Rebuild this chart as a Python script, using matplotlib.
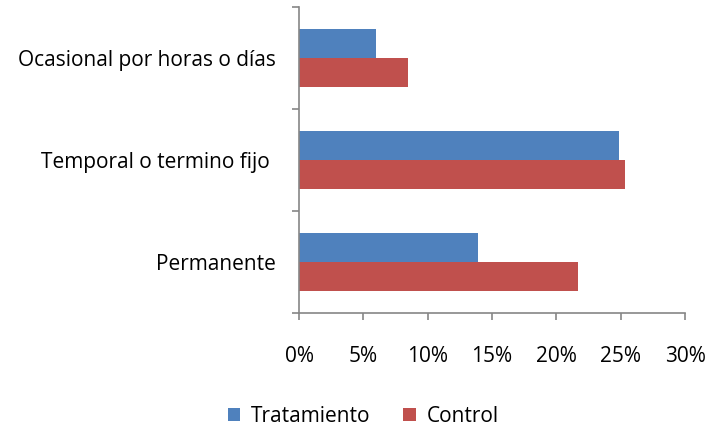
import numpy as np
import matplotlib.pyplot as plt
from matplotlib.ticker import FuncFormatter

plt.rcParams['font.family'] = ['Open Sans', 'DejaVu Sans']

categorias = ['Permanente', 'Temporal o termino fijo ', 'Ocasional por horas o días']
tratamiento = [13.9, 24.9, 6.0]
control = [21.7, 25.3, 8.5]
xticks = [0, 5, 10, 15, 20, 25, 30]

azul = '#4F81BD'
rojo = '#C0504D'
gris = '#868686'

fig = plt.figure(figsize=(7.1, 4.29), dpi=100)
ax = fig.add_axes([299/710, 1 - 313/429, 386/710, 306/429])

y = np.arange(len(categorias))
h = 0.28
ax.barh(y + h/2, tratamiento, height=h, color=azul, label='Tratamiento')
ax.barh(y - h/2, control, height=h, color=rojo, label='Control')

ax.set_xlim(0, 30)
ax.set_ylim(-0.5, 2.5)
ax.set_xticks(xticks)
ax.xaxis.set_major_formatter(FuncFormatter(lambda v, p: '%d%%' % v))
ax.set_yticks([-0.5, 0.5, 1.5, 2.5])
ax.set_yticklabels([])
ax.set_yticks(y, minor=True)
ax.set_yticklabels(categorias, minor=True)
ax.tick_params(axis='y', which='minor', length=0, pad=17, labelsize=15)
ax.tick_params(axis='y', which='major', length=5, color=gris, width=1.2)
ax.tick_params(axis='x', length=5, color=gris, width=1.2, pad=19, labelsize=15)

for s in ['top', 'right']:
    ax.spines[s].set_visible(False)
for s in ['left', 'bottom']:
    ax.spines[s].set_color(gris)
    ax.spines[s].set_linewidth(1.2)

handles, labels = ax.get_legend_handles_labels()
fig.legend(handles, labels, loc='center', bbox_to_anchor=(363/710, 1 - 416/429),
           ncol=2, frameon=False, fontsize=15, handlelength=0.6, handleheight=0.6,
           handletextpad=0.5, columnspacing=1.6)

fig.savefig('out.png', dpi=100)
